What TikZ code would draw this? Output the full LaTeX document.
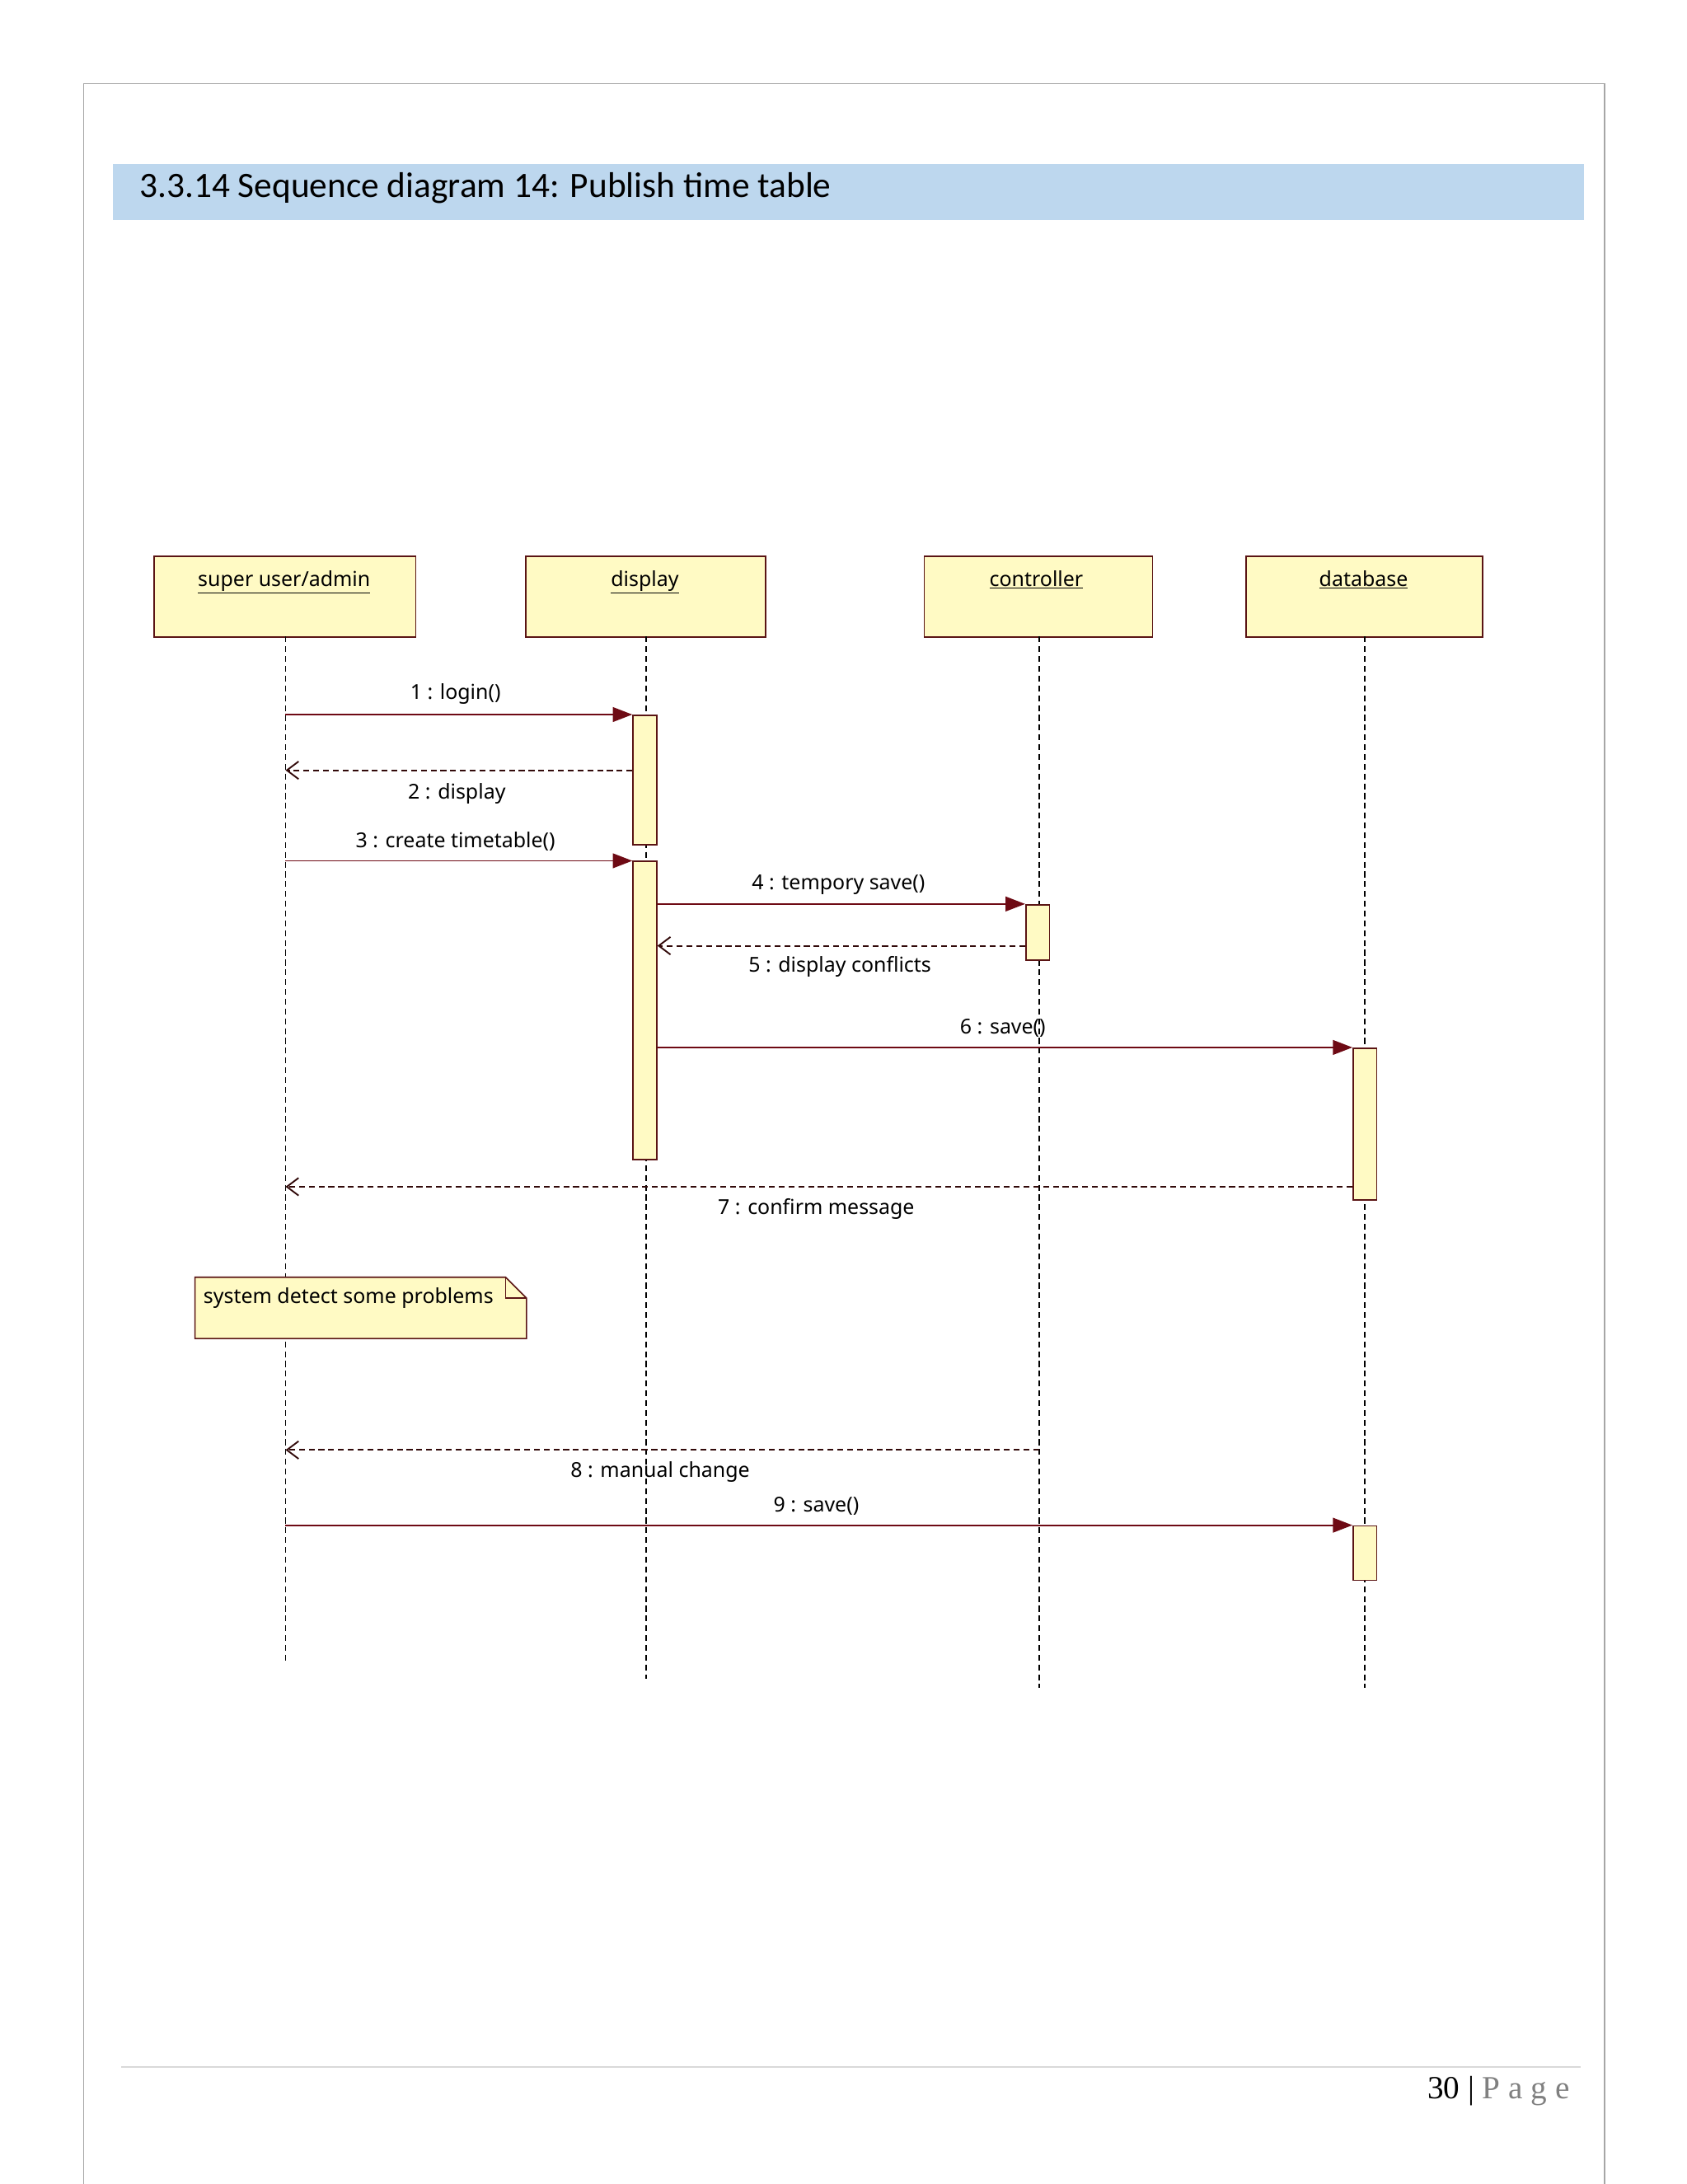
\documentclass[tikz,border=0pt]{standalone}
\usepackage{fontspec}
\setmainfont{Noto Sans}
\newfontfamily\titlefont{Carlito}
\newfontfamily\footfont{Liberation Serif}
\usetikzlibrary{arrows.meta}
\definecolor{lfill}{RGB}{255,250,196}
\definecolor{lborder}{RGB}{90,20,20}
\definecolor{msg}{RGB}{110,10,20}
\definecolor{retc}{RGB}{50,10,10}
\definecolor{titlebg}{RGB}{189,215,238}
\begin{document}
\begin{tikzpicture}[x=0.05cm,y=-0.05cm,
  head/.style={draw=lborder,fill=lfill,line width=1.4pt,inner sep=0pt,anchor=north west},
  act/.style={draw=lborder,fill=lfill,line width=1.4pt,inner sep=0pt,minimum width=17*0.05cm,anchor=north west},
  life/.style={line width=1.4pt,dash pattern=on 6pt off 4pt},
  call/.style={draw=msg,line width=1.6pt,-{Triangle[length=20pt,width=15pt]}},
  ret/.style={draw=retc,line width=1.6pt,dash pattern=on 6pt off 4pt,-{Straight Barb[length=12pt,width=18pt]}},
  lbl/.style={font=\fontsize{21}{24}\selectfont,inner sep=0pt}]
\useasboundingbox (0,0) rectangle (1211,1568);
\fill[white] (0,0) rectangle (1211,1568);
\draw[gray!70,line width=1.4pt] (60,1568) -- (60,60) -- (1152,60) -- (1152,1568);
\fill[titlebg] (81,118) rectangle (1137,158);
\node[anchor=west,inner sep=0pt,font=\titlefont\fontsize{36.5}{40}\selectfont] (title) at (100,135) {3.3.14 Sequence diagram 14: Publish time table};
\draw[gray!30,line width=1.4pt] (87,1484) -- (1135,1484);
\node[anchor=east,inner sep=0pt,font=\footfont\fontsize{33}{36}\selectfont] (foot) at (1127,1501) {30 | \textcolor{gray}{P a g e}};
% heads
\node[head,minimum width=188*0.05cm,minimum height=58*0.05cm] (A) at (110,399) {};
\node[head,minimum width=172*0.05cm,minimum height=58*0.05cm] (D) at (377,399) {};
\node[head,minimum width=164*0.05cm,minimum height=58*0.05cm] (C) at (663,399) {};
\node[head,minimum width=170*0.05cm,minimum height=58*0.05cm] (B) at (894,399) {};
\node[lbl,anchor=base] at (204,421) {\underline{super user/admin}};
\node[lbl,anchor=base] at (463,421) {\underline{display}};
\node[lbl,anchor=base] at (744,421) {\underline{controller}};
\node[lbl,anchor=base] at (979,421) {\underline{database}};
% lifelines
\coordinate (Ae) at (205,1195); \coordinate (De) at (464,1205);
\coordinate (Ce) at (746,1212); \coordinate (Be) at (980,1212);
\draw[life] (205,457) -- (Ae);
\draw[life] (464,457) -- (De);
\draw[life] (746,457) -- (Ce);
\draw[life] (980,457) -- (Be);
% activations
\node[act,minimum height=93*0.05cm] (D1) at (454,513) {};
\node[act,minimum height=214*0.05cm] (D2) at (454,618) {};
\node[act,minimum height=40*0.05cm] (C1) at (736,649) {};
\node[act,minimum height=109*0.05cm] (B1) at (971,752) {};
\node[act,minimum height=39*0.05cm] (B2) at (971,1095) {};
% messages
\coordinate (a1) at (205,513); \coordinate (a2) at (205,553); \coordinate (a3) at (205,618);
\coordinate (a7) at (205,852); \coordinate (a8) at (205,1041); \coordinate (a9) at (205,1095);
\coordinate (c8) at (746,1041);
\draw[call] (a1) -- (D1.north west);
\draw[ret] (D1.west |- a2) -- (a2);
\draw[call] (a3) -- (D2.north west);
\draw[call] (D2.east |- C1.north) -- (C1.north west);
\draw[ret] (C1.west |- 0,679) -- (D2.east |- 0,679);
\draw[call] (D2.east |- B1.north) -- (B1.north west);
\draw[ret] (B1.west |- a7) -- (a7);
\draw[ret] (c8) -- (a8);
\draw[call] (a9) -- (B2.north west);
\node[lbl] at (327,498) {1 : login()};
\node[lbl] at (328,570) {2 : display};
\node[lbl] at (327,604) {3 : create timetable()};
\node[lbl] at (602,635) {4 : tempory save()};
\node[lbl] at (603,694) {5 : display conflicts};
\node[lbl] at (720,738) {6 : save()};
\node[lbl] at (586,868) {7 : confirm message};
\node[lbl] at (474,1057) {8 : manual change};
\node[lbl] at (586,1081) {9 : save()};
% note
\filldraw[draw=lborder,fill=lfill,line width=1.4pt] (140,917) -- (363,917) -- (378,932) -- (378,961) -- (140,961) -- cycle;
\draw[lborder,line width=1.4pt] (363,917) -- (363,932) -- (378,932);
\node[lbl,anchor=west] (note) at (146,932) {system detect some problems};
\end{tikzpicture}
\end{document}
